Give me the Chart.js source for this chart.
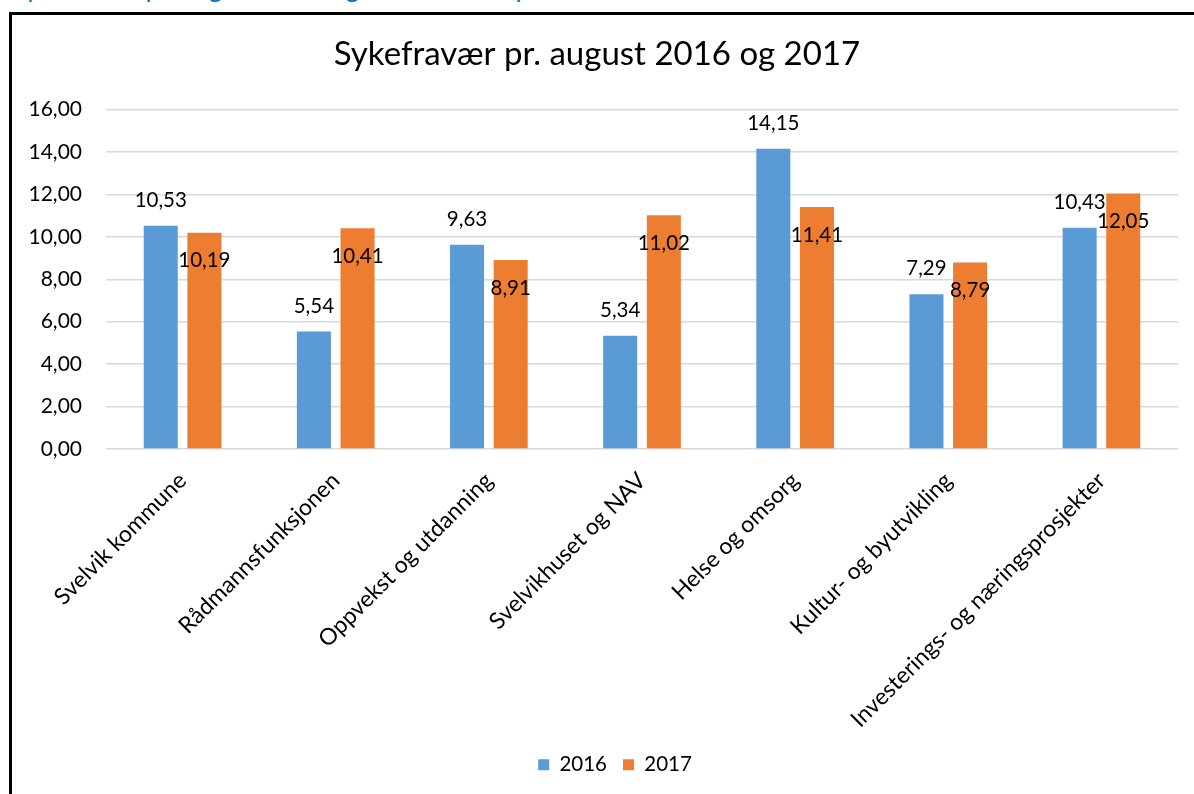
<!DOCTYPE html>
<html>
<head>
<meta charset="utf-8">
<script src="https://cdn.jsdelivr.net/npm/chart.js@4.4.1/dist/chart.umd.min.js"></script>
<style>
  html, body { margin: 0; padding: 0; width: 1194px; height: 794px; overflow: hidden; background: #fff; }
  #heading { position: absolute; left: 12px; top: -26px; font: 26px Lato, sans-serif; line-height: 26px; color: #0070c0; white-space: nowrap; }
  #frame { position: absolute; left: 9px; top: 12px; width: 1400px; height: 1000px; border: 3px solid #000; }
  #chart { position: absolute; left: 0; top: 0; }
</style>
</head>
<body>
<div id="heading">Sykefravær pr. august 2016 og 2017 fordelt på enheter</div>
<div id="frame"></div>
<canvas id="chart" width="1194" height="794"></canvas>
<script>
const categories = [
  "Svelvik kommune",
  "Rådmannsfunksjonen",
  "Oppvekst og utdanning",
  "Svelvikhuset og NAV",
  "Helse og omsorg",
  "Kultur- og byutvikling",
  "Investerings- og næringsprosjekter",
];
const values2016 = [10.53, 5.54, 9.63, 5.34, 14.15, 7.29, 10.43];
const values2017 = [10.19, 10.41, 8.91, 11.02, 11.41, 8.79, 12.05];
const seriesNames = ["2016", "2017"];
const yMin = 0;
const yMax = 16;
const yStep = 2;

// norsk tallformat: 10,53
const fmt = (v) => Number(v).toFixed(2).replace(".", ",");

// blå etiketter over stolpen, oransje litt ned i stolpen
const labelOffsets = [-25.5, 28];

const dataLabels = {
  id: "dataLabels",
  afterDatasetsDraw(chart) {
    const ctx = chart.ctx;
    ctx.save();
    ctx.font = "20.5px Lato";
    ctx.fillStyle = "#000";
    ctx.textAlign = "center";
    ctx.textBaseline = "middle";
    chart.data.datasets.forEach((ds, di) => {
      chart.getDatasetMeta(di).data.forEach((bar, i) => {
        ctx.fillText(fmt(ds.data[i]), bar.x, bar.y + labelOffsets[di]);
      });
    });
    ctx.restore();
  },
};

// tegnforklaringen står litt til høyre for midten i originalen
const legendShift = {
  id: "legendShift",
  afterLayout(chart) {
    chart.legend.left += 18;
    chart.legend.right += 18;
  },
};

Chart.defaults.font.family = "Lato";
Chart.defaults.color = "#000";

new Chart(document.getElementById("chart"), {
  type: "bar",
  data: {
    labels: categories,
    datasets: [
      { label: seriesNames[0], data: values2016, backgroundColor: "#5b9bd5" },
      { label: seriesNames[1], data: values2017, backgroundColor: "#ed7d31" },
    ],
  },
  options: {
    responsive: false,
    animation: false,
    categoryPercentage: 0.57,
    barPercentage: 0.78,
    layout: { padding: { left: 16, right: 16, top: 0, bottom: 9 } },
    plugins: {
      title: {
        display: true,
        text: "Sykefravær pr. august 2016 og 2017",
        font: { size: 33, weight: "normal" },
        color: "#000",
        padding: { top: 35, bottom: 35 },
      },
      legend: {
        position: "bottom",
        labels: { boxWidth: 11, boxHeight: 11, font: { size: 20.5 }, padding: 16, color: "#000" },
      },
      tooltip: { enabled: false },
    },
    scales: {
      x: {
        grid: { display: false },
        border: { display: false },
        ticks: { font: { size: 23 }, minRotation: 45, maxRotation: 45, autoSkip: false, padding: 10 },
        afterFit: (s) => { s.height = 289.5; },
      },
      y: {
        min: yMin,
        max: yMax,
        grid: { color: "#d9d9d9", lineWidth: 1.5, drawTicks: false },
        border: { display: false },
        ticks: { stepSize: yStep, callback: (v) => fmt(v), font: { size: 21 }, padding: 24 },
        afterFit: (s) => { s.width = 90; },
      },
    },
  },
  plugins: [dataLabels, legendShift],
});
</script>
</body>
</html>
